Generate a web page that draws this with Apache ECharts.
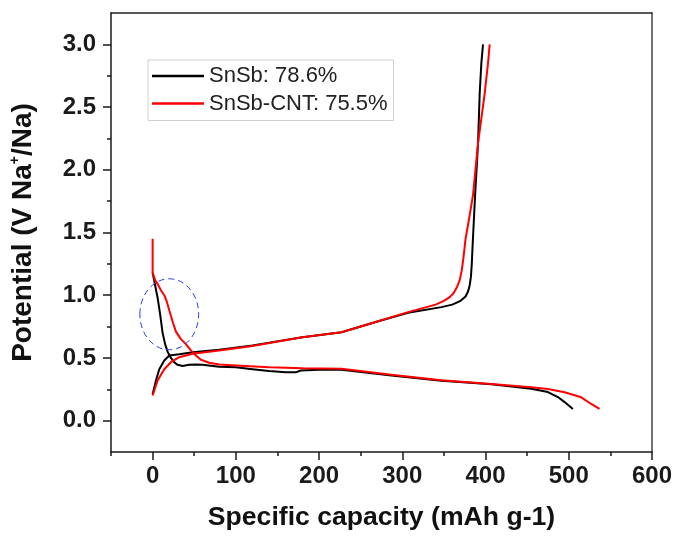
<!DOCTYPE html>
<html>
<head>
<meta charset="utf-8">
<script src="https://cdn.jsdelivr.net/npm/echarts@6/dist/echarts.min.js"></script>
<style>
html,body{margin:0;padding:0;background:#fff;}
#chart{width:675px;height:536px;}
</style>
</head>
<body>
<div id="chart"></div>
<script>
// ---- data ----
const seriesNames = ['SnSb: 78.6%', 'SnSb-CNT: 75.5%'];

const snsbDischarge = [[0,1.18],[3,1.08],[6,0.98],[9,0.85],[12,0.70],[15,0.61],[18,0.55],[22,0.50],[26,0.465],[30,0.445],[36,0.435],[44,0.445],[52,0.447],[60,0.445],[80,0.43],[100,0.425],[120,0.41],[140,0.395],[160,0.385],[172,0.385],[178,0.40],[200,0.405],[227,0.405],[287,0.36],[347,0.318],[407,0.29],[455,0.255],[475,0.228],[487,0.188],[495,0.148],[505,0.093]];
const snsbCharge = [[0,0.21],[4,0.32],[8,0.41],[14,0.48],[20,0.52],[32,0.53],[48,0.546],[80,0.565],[120,0.60],[180,0.665],[227,0.705],[267,0.785],[307,0.86],[347,0.905],[360,0.925],[370,0.955],[376,0.99],[379,1.03],[381,1.08],[382.5,1.15],[383.5,1.25],[384.5,1.4],[386,1.6],[387.5,1.8],[391,2.21],[393,2.61],[395,2.85],[397,3.0]];

const cntDischarge = [[0,1.45],[0,1.18],[3,1.12],[6,1.09],[10,1.04],[14,1.0],[17,0.95],[20,0.88],[24,0.79],[28,0.71],[34,0.65],[40,0.61],[46,0.56],[52,0.52],[58,0.485],[68,0.462],[80,0.447],[100,0.44],[140,0.426],[180,0.418],[227,0.413],[287,0.365],[347,0.322],[407,0.293],[455,0.266],[475,0.253],[495,0.226],[515,0.186],[527,0.133],[537,0.093]];
const cntCharge = [[0,0.20],[6,0.32],[14,0.41],[22,0.466],[32,0.506],[48,0.533],[80,0.56],[120,0.595],[180,0.665],[227,0.705],[267,0.785],[307,0.865],[340,0.925],[350,0.955],[357,0.985],[362,1.02],[366,1.07],[369,1.12],[371.5,1.2],[373.5,1.3],[376,1.45],[380,1.6],[385,1.8],[391,2.21],[399,2.61],[403,2.85],[405,3.0]];

// highlighted region: centre x, centre y, radius x, radius y (data units)
const ellipseMark = [[20, 0.848, 35.3, 0.283]];

const xMajorTicks = [0,100,200,300,400,500,600];
const xMinorTicks = [-50,50,150,250,350,450,550];
const yMajorTicks = [0,0.5,1.0,1.5,2.0,2.5,3.0];
const yMinorTicks = [0.25,0.75,1.25,1.75,2.25,2.75];

const xTitle = 'Specific capacity (mAh g-1)';

// ---- chart ----
const chart = echarts.init(document.getElementById('chart'), null, {renderer:'canvas'});
const axisCol = '#1a1a1a';
const lab = {fontFamily:'Liberation Sans, Arial, sans-serif', fontWeight:'bold', fontSize:24, color:'#1a1a1a'};

const option = {
  animation:false,
  backgroundColor:'#fff',
  grid:{left:108, right:23, top:13, bottom:84, containLabel:false},
  legend:{
    data: seriesNames,
    orient:'vertical',
    left:148, top:60,
    padding:[5,6,6,4],
    itemGap:5.5,
    itemWidth:52, itemHeight:2.5,
    icon:'rect',
    backgroundColor:'#fff',
    borderColor:'#d0d0d0', borderWidth:1,
    textStyle:{fontFamily:'Liberation Sans, Arial, sans-serif', fontSize:22, color:'#222', lineHeight:22, padding:[0,0,0,0]}
  },
  xAxis:[
    {type:'value', min:-50, max:600, position:'bottom',
     axisLine:{show:true, onZero:false, lineStyle:{color:axisCol, width:1.5}},
     axisTick:{show:true, inside:false, length:8, customValues:xMajorTicks, lineStyle:{color:axisCol, width:1.5}},
     axisLabel:{show:true, customValues:xMajorTicks, margin:12, ...lab},
     splitLine:{show:false},
     name:xTitle, nameLocation:'middle', nameGap:52,
     nameTextStyle:{fontFamily:'Liberation Sans, Arial, sans-serif', fontWeight:'bold', fontSize:26.6, color:'#111'}},
    {type:'value', min:-50, max:600, position:'bottom',
     axisLine:{show:false, onZero:false},
     axisTick:{show:true, inside:false, length:4, customValues:xMinorTicks, lineStyle:{color:axisCol, width:1.5}},
     axisLabel:{show:false}, splitLine:{show:false}},
    {type:'value', min:-50, max:600, position:'top',
     axisLine:{show:true, onZero:false, lineStyle:{color:'#222', width:1.5}},
     axisTick:{show:false}, axisLabel:{show:false}, splitLine:{show:false}}
  ],
  yAxis:[
    {type:'value', min:-0.25, max:3.25, position:'left',
     axisLine:{show:true, onZero:false, lineStyle:{color:axisCol, width:1.5}},
     axisTick:{show:true, inside:false, length:8, customValues:yMajorTicks, lineStyle:{color:axisCol, width:1.5}},
     axisLabel:{show:true, customValues:yMajorTicks, margin:15, formatter:(v)=>v.toFixed(1), ...lab},
     splitLine:{show:false},
     name:'{a|Potential (V Na}{s|+}{a|/Na)}', nameLocation:'middle', nameGap:73,
     nameTextStyle:{rich:{
       a:{fontFamily:'Liberation Sans, Arial, sans-serif', fontWeight:'bold', fontSize:28, color:'#111', lineHeight:30},
       s:{fontFamily:'Liberation Sans, Arial, sans-serif', fontWeight:'bold', fontSize:14, color:'#111', verticalAlign:'top', lineHeight:30, padding:[0,0,0,0]}
     }}},
    {type:'value', min:-0.25, max:3.25, position:'left',
     axisLine:{show:false, onZero:false},
     axisTick:{show:true, inside:false, length:4, customValues:yMinorTicks, lineStyle:{color:axisCol, width:1.5}},
     axisLabel:{show:false}, splitLine:{show:false}},
    {type:'value', min:-0.25, max:3.25, position:'right',
     axisLine:{show:true, onZero:false, lineStyle:{color:'#444', width:1.5}},
     axisTick:{show:false}, axisLabel:{show:false}, splitLine:{show:false}}
  ],
  series:[
    {name:seriesNames[0], type:'line', data:snsbDischarge, showSymbol:false, symbol:'none', color:'#000', lineStyle:{color:'#000', width:2}, xAxisIndex:0, yAxisIndex:0, z:2},
    {name:seriesNames[0], type:'line', data:snsbCharge, showSymbol:false, symbol:'none', color:'#000', lineStyle:{color:'#000', width:2}, xAxisIndex:0, yAxisIndex:0, z:2},
    {name:seriesNames[1], type:'line', data:cntDischarge, showSymbol:false, symbol:'none', color:'#ff0000', lineStyle:{color:'#ff0000', width:2}, xAxisIndex:0, yAxisIndex:0, z:3},
    {name:seriesNames[1], type:'line', data:cntCharge, showSymbol:false, symbol:'none', color:'#ff0000', lineStyle:{color:'#ff0000', width:2}, xAxisIndex:0, yAxisIndex:0, z:3},
    {name:'region', type:'custom', xAxisIndex:0, yAxisIndex:0, z:4, silent:true,
     data:ellipseMark, encode:{x:0, y:1},
     renderItem:function(params, api){
       const c = api.coord([api.value(0), api.value(1)]);
       const s = api.size([api.value(2), api.value(3)]);
       return {type:'ellipse', shape:{cx:c[0], cy:c[1], rx:s[0], ry:s[1]},
         style:{fill:null, stroke:'#2a3cf0', lineWidth:1, lineDash:[6,4]}};
     }}
  ]
};
chart.setOption(option);
</script>
</body>
</html>
